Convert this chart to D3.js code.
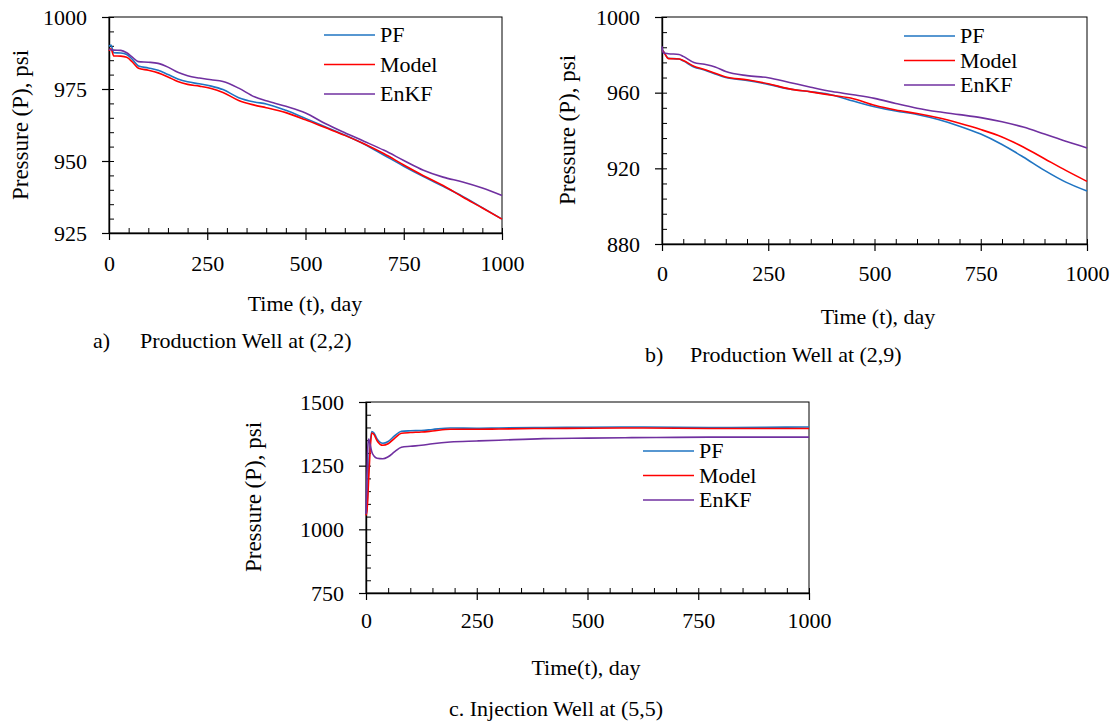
<!DOCTYPE html>
<html>
<head>
<meta charset="utf-8">
<script src="https://cdn.jsdelivr.net/npm/d3@7"></script>
<style>
  body { margin: 0; background: #fff; }
  svg text { font-family: "Liberation Serif", "Times New Roman", serif; fill: #000; }
</style>
</head>
<body>
<div id="chart"></div>
<script>
// 資料 (a) Production Well at (2,2)
const timeA = [0, 5, 12, 30, 45, 60, 75, 100, 125, 150, 175, 200, 230, 260, 290, 330, 370, 400, 450, 500, 550, 600, 650, 700, 750, 800, 850, 900, 950, 1000];
const pfA = [989.8, 990.3, 987.6, 987.5, 987.0, 985.2, 983.0, 982.3, 981.5, 980.0, 978.5, 977.5, 976.8, 976.0, 974.8, 972.0, 970.5, 969.8, 967.6, 964.8, 961.9, 959.0, 955.8, 952.0, 948.2, 944.6, 941.2, 937.7, 933.8, 929.8];
const modelA = [988.3, 989.0, 986.5, 986.4, 986.0, 984.3, 982.2, 981.5, 980.6, 979.2, 977.6, 976.6, 976.0, 975.2, 973.8, 971.0, 969.4, 968.5, 966.8, 964.3, 961.6, 958.9, 955.9, 952.5, 948.6, 944.9, 941.5, 937.5, 933.7, 929.8];
const enkfA = [988.8, 988.6, 988.5, 988.4, 987.6, 986.0, 984.5, 984.3, 983.9, 982.6, 980.8, 979.6, 978.8, 978.2, 977.6, 975.3, 972.3, 970.9, 969.0, 966.7, 963.0, 959.8, 956.8, 953.7, 950.2, 946.8, 944.4, 942.7, 940.6, 938.0];
const yTicksA = [925, 950, 975, 1000];

// 資料 (b) Production Well at (2,9)
const timeB = [0, 3, 15, 40, 50, 75, 100, 125, 150, 200, 250, 300, 350, 400, 450, 500, 550, 600, 650, 700, 750, 800, 850, 900, 950, 1000];
const pfB = [982.7, 982.0, 978.2, 977.8, 976.8, 973.6, 972.0, 969.9, 968.0, 966.5, 964.4, 961.9, 960.5, 958.8, 955.6, 952.6, 950.3, 948.5, 945.8, 942.3, 938.1, 932.6, 926.0, 918.9, 912.7, 908.0];
const modelB = [982.5, 981.8, 978.0, 977.8, 977.0, 974.0, 972.3, 970.3, 968.3, 966.8, 964.7, 962.0, 960.4, 958.6, 956.8, 953.3, 950.8, 949.0, 946.7, 943.8, 940.5, 936.6, 931.3, 925.1, 918.9, 913.1];
const enkfB = [984.5, 981.0, 980.6, 980.2, 979.2, 976.0, 975.0, 973.6, 971.2, 969.0, 967.9, 965.4, 962.9, 960.6, 958.9, 957.0, 954.3, 951.8, 949.9, 948.4, 946.8, 944.6, 941.8, 938.1, 934.3, 930.8];
const yTicksB = [880, 920, 960, 1000];

// 資料 (c) Injection Well at (5,5)
const timeC = [0, 2, 4, 6, 9, 13, 18, 25, 38, 50, 65, 80, 100, 125, 150, 190, 250, 300, 400, 500, 600, 700, 800, 900, 1000];
const pfC = [1060, 1080, 1150, 1240, 1330, 1384, 1378, 1355, 1338, 1345, 1368, 1385, 1387, 1388, 1392, 1398, 1397, 1398, 1400, 1401, 1402, 1401, 1400, 1401, 1402];
const modelC = [1055, 1070, 1120, 1200, 1300, 1378, 1372, 1348, 1330, 1336, 1358, 1377, 1380, 1382, 1386, 1393, 1393, 1394, 1396, 1397, 1398, 1397, 1396, 1396, 1396];
const enkfC = [1060, 1200, 1320, 1355, 1335, 1305, 1288, 1279, 1277, 1285, 1305, 1322, 1326, 1330, 1336, 1343, 1347, 1350, 1356, 1358, 1360, 1361, 1362, 1362, 1362];
const yTicksC = [750, 1000, 1250, 1500];

const xTicks = [0, 250, 500, 750, 1000];
const seriesNames = ["PF", "Model", "EnKF"];
const seriesColors = ["#1f74c2", "#ff0000", "#7030a0"];

const svg = d3.select("#chart").append("svg")
    .attr("width", 1113)
    .attr("height", 727);

const fontSize = 22;
const fmt = d3.format("d");

function drawPanel(p) {
    const x = d3.scaleLinear().domain([0, 1000]).range([p.left, p.right]);
    const y = d3.scaleLinear().domain([p.yTicks[0], p.yTicks[p.yTicks.length - 1]]).range([p.bottom, p.top]);
    const g = svg.append("g");

    // 外框
    g.append("rect")
        .attr("x", p.left).attr("y", p.top)
        .attr("width", p.right - p.left).attr("height", p.bottom - p.top)
        .attr("fill", "none").attr("stroke", "#000").attr("stroke-width", 1);

    // 次刻度 (往內)
    const yStep = (p.yTicks[1] - p.yTicks[0]) / 5;
    const yMinor = d3.range(p.yTicks[0], p.yTicks[p.yTicks.length - 1] + yStep / 2, yStep);
    const xMinor = d3.range(0, 1001, 50);

    g.append("g").attr("transform", `translate(${p.left},0)`)
        .call(d3.axisLeft(y).tickValues(yMinor).tickSize(-5).tickFormat(""))
        .call(a => a.select(".domain").remove());
    g.append("g").attr("transform", `translate(0,${p.bottom})`)
        .call(d3.axisBottom(x).tickValues(xMinor).tickSize(-5).tickFormat(""))
        .call(a => a.select(".domain").remove());

    // 主刻度
    const yAxis = g.append("g").attr("transform", `translate(${p.left},0)`)
        .call(d3.axisLeft(y).tickValues(p.yTicks).tickFormat(fmt).tickSize(7).tickPadding(15).tickSizeOuter(0));
    const xAxis = g.append("g").attr("transform", `translate(0,${p.bottom})`)
        .call(d3.axisBottom(x).tickValues(xTicks).tickFormat(fmt).tickSize(7).tickPadding(p.xPad).tickSizeOuter(0));

    [yAxis, xAxis].forEach(a => {
        a.selectAll("text").style("font-size", fontSize + "px").style("font-family", '"Liberation Serif", serif');
        a.selectAll("line").attr("stroke", "#000").attr("stroke-width", 1.2);
        a.select(".domain").attr("stroke", "#000").attr("stroke-width", 1.4);
    });
    g.selectAll("line").attr("stroke", "#000");

    // 曲線
    const line = d3.line()
        .x(d => x(d[0]))
        .y(d => y(d[1]))
        .curve(d3.curveMonotoneX);

    p.series.forEach((s, i) => {
        g.append("path")
            .datum(p.time.map((t, j) => [t, s[j]]))
            .attr("fill", "none")
            .attr("stroke", seriesColors[i])
            .attr("stroke-width", 1.6)
            .attr("d", line);
    });

    // 圖例
    seriesNames.forEach((name, i) => {
        const ly = p.legend.y + i * p.legend.gap;
        g.append("line")
            .attr("x1", p.legend.x).attr("x2", p.legend.x + 51)
            .attr("y1", ly).attr("y2", ly)
            .attr("stroke", seriesColors[i]).attr("stroke-width", 1.6);
        g.append("text")
            .attr("x", p.legend.x + 56).attr("y", ly + 7)
            .style("font-size", fontSize + "px")
            .text(name);
    });

    // 軸標題
    g.append("text")
        .attr("transform", `translate(${p.yTitle[0]},${p.yTitle[1]}) rotate(-90)`)
        .attr("text-anchor", "middle")
        .attr("dy", "0.35em")
        .style("font-size", "23px")
        .text("Pressure (P), psi");

    g.append("text")
        .attr("x", p.xTitle[0]).attr("y", p.xTitle[1])
        .attr("text-anchor", "middle")
        .attr("dy", "0.35em")
        .style("font-size", fontSize + "px")
        .text(p.xTitleText);
}

drawPanel({
    left: 109, right: 502, top: 17, bottom: 233,
    yTicks: yTicksA, time: timeA, series: [pfA, modelA, enkfA],
    xPad: 15,
    legend: { x: 324, y: 35, gap: 29.5 },
    yTitle: [20, 125], xTitle: [305, 303], xTitleText: "Time (t), day"
});

drawPanel({
    left: 662, right: 1087, top: 17, bottom: 244,
    yTicks: yTicksB, time: timeB, series: [pfB, modelB, enkfB],
    xPad: 14,
    legend: { x: 904, y: 36, gap: 24.5 },
    yTitle: [567, 130], xTitle: [878, 316], xTitleText: "Time (t), day"
});

drawPanel({
    left: 366, right: 809, top: 402, bottom: 593,
    yTicks: yTicksC, time: timeC, series: [pfC, modelC, enkfC],
    xPad: 12,
    legend: { x: 643, y: 451, gap: 24.5 },
    yTitle: [253, 497], xTitle: [586, 667], xTitleText: "Time(t), day"
});

// 圖說
const captions = [
    { x: 93, y: 340, text: "a)" },
    { x: 140, y: 340, text: "Production Well at (2,2)" },
    { x: 645, y: 354, text: "b)" },
    { x: 690, y: 354, text: "Production Well at (2,9)" }
];
captions.forEach(c => {
    svg.append("text")
        .attr("x", c.x).attr("y", c.y)
        .attr("dy", "0.35em")
        .style("font-size", fontSize + "px")
        .text(c.text);
});
svg.append("text")
    .attr("x", 556).attr("y", 708)
    .attr("text-anchor", "middle")
    .attr("dy", "0.35em")
    .style("font-size", fontSize + "px")
    .text("c. Injection Well at (5,5)");
</script>
</body>
</html>
